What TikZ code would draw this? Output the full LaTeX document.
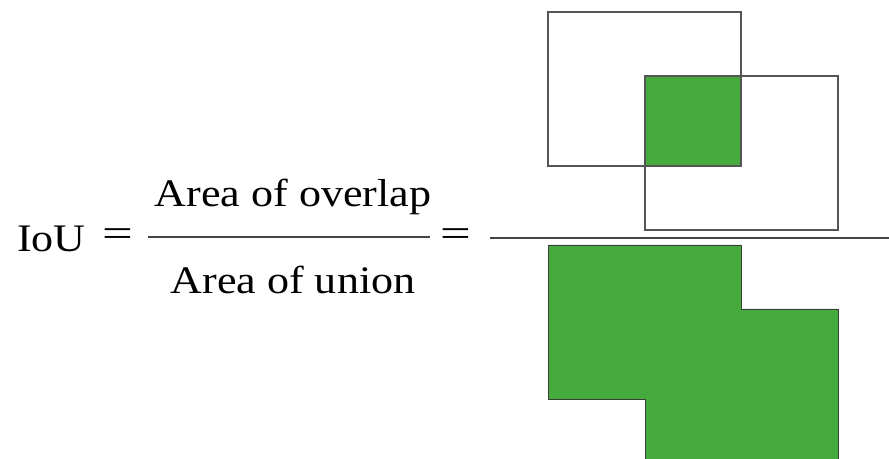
\documentclass[tikz,border=0pt]{standalone}
\usepackage{fontspec}
\setmainfont{Liberation Serif}
\definecolor{boxgreen}{RGB}{69,171,61}
\definecolor{edge}{RGB}{85,85,85}
\begin{document}
\begin{tikzpicture}[x=1bp,y=-1bp,
  txt/.style={inner sep=0pt,outer sep=0pt,font=\fontsize{39bp}{44bp}\selectfont},
  outline/.style={draw=edge,line width=1.2bp},
  fill box/.style={fill=boxgreen,draw=edge!70!black,line width=0.9bp},
  bar/.style={draw=edge!80!black,line width=1.8bp}]
\useasboundingbox (0,0) rectangle (889,459);
\clip (0,0) rectangle (889,459);
% formula text
\node[txt,anchor=base west] (iou) at (17,252) {\scalebox{1.13}[1]{IoU}};
\node[txt,anchor=center] (eq1) at (118,238) {\scalebox{1.4}[1]{=}};
\node[txt,anchor=base] (num) at (293,207) {\scalebox{1.13}[1]{Area of overlap}};
\node[txt,anchor=base] (den) at (293,294) {\scalebox{1.13}[1]{Area of union}};
\node[txt,anchor=center] (eq2) at (456,238) {\scalebox{1.4}[1]{=}};
\coordinate (b1l) at (148,237);
\coordinate (b1r) at (430,237);
\coordinate (b2l) at (490,238);
\coordinate (b2r) at (889,238);
\draw[bar] (b1l) -- (b1r);
\draw[bar] (b2l) -- (b2r);
% overlap (numerator)
\fill[boxgreen] (645,76) rectangle (741,166);
\draw[outline] (548,12) rectangle (741,166);
\draw[outline] (645,76) rectangle (838,230);
% union (denominator)
\draw[fill box] (548,245) -- (741,245) -- (741,309) -- (838,309) -- (838,470)
  -- (645,470) -- (645,399) -- (548,399) -- cycle;
\end{tikzpicture}
\end{document}
